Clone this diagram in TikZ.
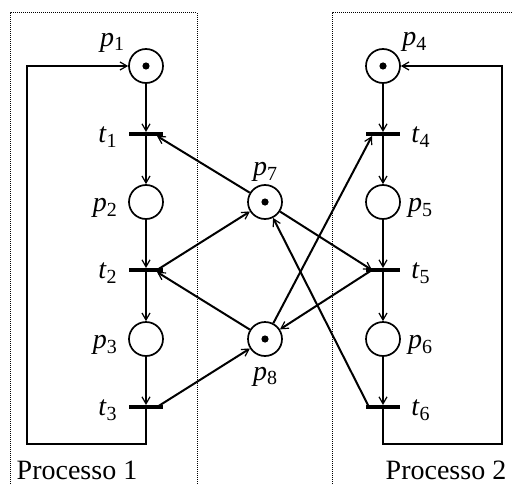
\documentclass[tikz,border=0pt]{standalone}
\usepackage{fontspec}
\setmainfont{Liberation Serif}
\usetikzlibrary{arrows.meta,positioning}
\newcommand{\lab}[2]{\textit{#1}\raisebox{-4.5pt}{\fontsize{20}{20}\selectfont #2}}
\tikzset{
	place/.style={circle,draw,line width=1.7pt,minimum size=34pt,inner sep=0pt},
	marked/.style={place,path picture={\fill (path picture bounding box.center) circle (3.6pt);}},
	trans/.style={rectangle,fill,minimum width=34pt,minimum height=3.6pt,inner sep=0pt},
	arc/.style={line width=2pt,-{Straight Barb[length=7pt,width=8pt,line width=1.2pt]}},
	lbl/.style={inner sep=0pt,font=\fontsize{28}{30}\selectfont},
	zone/.style={densely dotted,line width=1pt}
}

\begin{document}
\begin{tikzpicture}[x=1pt,y=-1pt]
				\useasboundingbox (0,0) rectangle (513,484);
				\draw[zone] (10,484) -- (10,13) -- (197,13) -- (197,484);
				\draw[zone] (332,484) -- (332,13) -- (513,13);
				\node[marked] (p1) at (146,66) {};
				\node[trans] (t1) at (146,134) {};
				\node[place] (p2) at (146,202) {};
				\node[trans] (t2) at (146,270) {};
				\node[place] (p3) at (146,339) {};
				\node[trans] (t3) at (146,407) {};
				\node[marked] (p4) at (383,66) {};
				\node[trans] (t4) at (383,134) {};
				\node[place] (p5) at (383,202) {};
				\node[trans] (t5) at (383,270) {};
				\node[place] (p6) at (383,339) {};
				\node[trans] (t6) at (383,407) {};
				\node[marked] (p7) at (265,202) {};
				\node[marked] (p8) at (265,339) {};
				\node[lbl,above left=1pt and 9pt of p1] (lp1) {\lab{p}{1}};
				\node[lbl,left=11pt of p2,yshift=-6pt] (lp2) {\lab{p}{2}};
				\node[lbl,left=11pt of p3,yshift=-6pt] (lp3) {\lab{p}{3}};
				\node[lbl,above right=1.5pt and 6.5pt of p4] (lp4) {\lab{p}{4}};
				\node[lbl,right=7pt of p5,yshift=-6pt] (lp5) {\lab{p}{5}};
				\node[lbl,right=7pt of p6,yshift=-6pt] (lp6) {\lab{p}{6}};
				\node[lbl,above=2pt of p7] (lp7) {\lab{p}{7}};
				\node[lbl,below=10pt of p8] (lp8) {\lab{p}{8}};
				\node[lbl,left=12pt of t1,yshift=-3pt] (lt1) {\lab{t}{1}};
				\node[lbl,left=12pt of t2,yshift=-3pt] (lt2) {\lab{t}{2}};
				\node[lbl,left=12pt of t3,yshift=-3pt] (lt3) {\lab{t}{3}};
				\node[lbl,right=11pt of t4,yshift=-3pt] (lt4) {\lab{t}{4}};
				\node[lbl,right=11pt of t5,yshift=-3pt] (lt5) {\lab{t}{5}};
				\node[lbl,right=11pt of t6,yshift=-3pt] (lt6) {\lab{t}{6}};
				\node[lbl,anchor=base] (proc1) at (77,479) {Processo 1};
				\node[lbl,anchor=base] (proc2) at (446,479) {Processo 2};
				\coordinate (c1) at (27,444);
				\coordinate (c2) at (502,444);
				\draw[arc] (p1) -- (t1);
				\draw[arc] (t1) -- (p2);
				\draw[arc] (p2) -- (t2);
				\draw[arc] (t2) -- (p3);
				\draw[arc] (p3) -- (t3);
				\draw[arc] (t3) |- (c1) |- (p1);
				\draw[arc] (p4) -- (t4);
				\draw[arc] (t4) -- (p5);
				\draw[arc] (p5) -- (t5);
				\draw[arc] (t5) -- (p6);
				\draw[arc] (p6) -- (t6);
				\draw[arc] (t6) |- (c2) |- (p4);
				\draw[arc] (p7) -- ([xshift=11pt]t1.south);
				\draw[arc] ([xshift=11pt]t2.center) -- (p7);
				\draw[arc] (p8) -- ([xshift=11pt]t2.south);
				\draw[arc] ([xshift=11pt]t3.center) -- (p8);
				\draw[arc] (p8) -- ([xshift=-11pt]t4.south);
				\draw[arc] (p7) -- ([xshift=-11pt]t5.center);
				\draw[arc] ([xshift=-11pt]t5.center) -- (p8);
				\draw[arc] ([xshift=-14pt]t6.center) -- (p7);
\end{tikzpicture}
\end{document}
